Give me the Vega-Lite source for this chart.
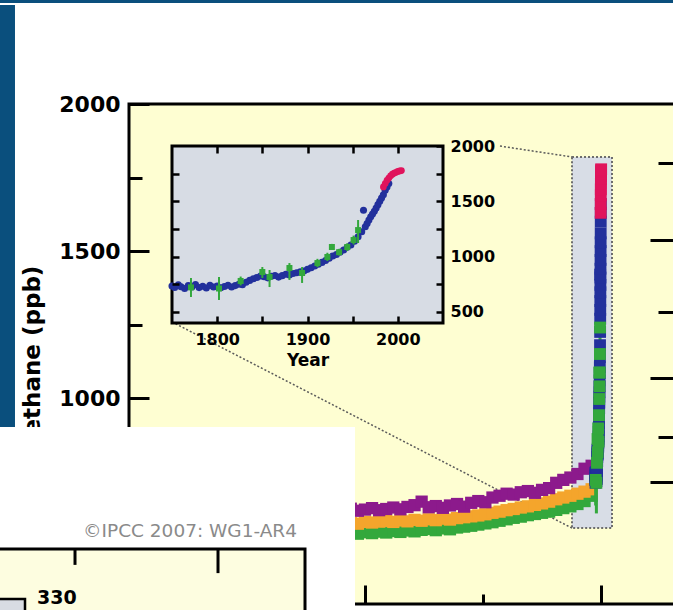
{
  "$schema": "https://vega.github.io/schema/vega-lite/v6.json",
  "width": 673,
  "height": 610,
  "autosize": {"type": "none"},
  "padding": 0,
  "background": "white",
  "config": {
    "view": {"stroke": null},
    "axis": {
      "grid": false,
      "domain": false,
      "labelFont": "DejaVu Sans",
      "labelFontWeight": "bold",
      "labelColor": "black",
      "titleFont": "DejaVu Sans",
      "titleFontWeight": "bold",
      "titleColor": "black",
      "tickColor": "black",
      "labelFlush": false,
      "labelOverlap": false,
      "format": "d"
    }
  },
  "datasets": {
    "deco": [
      {"item": "topline", "x1": -23500, "x2": 5300, "y1": 2343, "y2": 2360},
      {"item": "bluebar", "x1": -23500, "x2": -22824, "y1": 902, "y2": 2337},
      {"item": "frame", "x1": -17995, "x2": 5174, "y1": 300, "y2": 2000},
      {"item": "zoombox", "x1": 769, "x2": 2463, "y1": 558, "y2": 1820},
      {"item": "panel", "x1": -23500, "x2": -8422, "y1": 240, "y2": 902},
      {"item": "co2frame", "x1": -23700, "x2": -10540, "y1": 240, "y2": 487},
      {"item": "co2inset", "x1": -23700, "x2": -22400, "y1": 240, "y2": 317},
      {"item": "co2tick", "x1": -20282, "x2": -20282, "y1": 433, "y2": 487},
      {"item": "co2tick", "x1": -14225, "x2": -14225, "y1": 405, "y2": 487},
      {"item": "inset", "x1": 1750, "x2": 2050, "y1": 400, "y2": 2000}
    ],
    "labels": [
      {"label": "330", "year": -21892, "ch4": 320, "kind": "axis"},
      {"label": "©IPCC  2007: WG1-AR4", "year": -15411, "ch4": 548, "kind": "credit"}
    ],
    "connectors": [
      {"line": "upper", "year": -2281, "ch4": 1857},
      {"line": "upper", "year": 769, "ch4": 1820},
      {"line": "lower", "year": -16174, "ch4": 1259},
      {"line": "lower", "year": 769, "ch4": 558}
    ],
    "bands": [
      {"year": -9800, "ch4": 538, "src": "ice core 3"},
      {"year": -9500, "ch4": 541, "src": "ice core 3"},
      {"year": -9200, "ch4": 537, "src": "ice core 3"},
      {"year": -8900, "ch4": 540, "src": "ice core 3"},
      {"year": -8600, "ch4": 542, "src": "ice core 3"},
      {"year": -8300, "ch4": 539, "src": "ice core 3"},
      {"year": -8000, "ch4": 544, "src": "ice core 3"},
      {"year": -7700, "ch4": 541, "src": "ice core 3"},
      {"year": -7400, "ch4": 546, "src": "ice core 3"},
      {"year": -7100, "ch4": 543, "src": "ice core 3"},
      {"year": -6800, "ch4": 548, "src": "ice core 3"},
      {"year": -6500, "ch4": 545, "src": "ice core 3"},
      {"year": -6200, "ch4": 550, "src": "ice core 3"},
      {"year": -5900, "ch4": 547, "src": "ice core 3"},
      {"year": -5600, "ch4": 552, "src": "ice core 3"},
      {"year": -5300, "ch4": 555, "src": "ice core 3"},
      {"year": -5000, "ch4": 551, "src": "ice core 3"},
      {"year": -4700, "ch4": 557, "src": "ice core 3"},
      {"year": -4400, "ch4": 554, "src": "ice core 3"},
      {"year": -4100, "ch4": 560, "src": "ice core 3"},
      {"year": -3800, "ch4": 563, "src": "ice core 3"},
      {"year": -3500, "ch4": 566, "src": "ice core 3"},
      {"year": -3200, "ch4": 570, "src": "ice core 3"},
      {"year": -2900, "ch4": 574, "src": "ice core 3"},
      {"year": -2600, "ch4": 578, "src": "ice core 3"},
      {"year": -2300, "ch4": 583, "src": "ice core 3"},
      {"year": -2000, "ch4": 588, "src": "ice core 3"},
      {"year": -1700, "ch4": 593, "src": "ice core 3"},
      {"year": -1400, "ch4": 597, "src": "ice core 3"},
      {"year": -1100, "ch4": 602, "src": "ice core 3"},
      {"year": -800, "ch4": 606, "src": "ice core 3"},
      {"year": -500, "ch4": 610, "src": "ice core 3"},
      {"year": -200, "ch4": 614, "src": "ice core 3"},
      {"year": 100, "ch4": 620, "src": "ice core 3"},
      {"year": 400, "ch4": 626, "src": "ice core 3"},
      {"year": 700, "ch4": 632, "src": "ice core 3"},
      {"year": 1000, "ch4": 640, "src": "ice core 3"},
      {"year": 1300, "ch4": 650, "src": "ice core 3"},
      {"year": 1600, "ch4": 668, "src": "ice core 3"},
      {"year": -9800, "ch4": 574, "src": "ice core 2"},
      {"year": -9500, "ch4": 576, "src": "ice core 2"},
      {"year": -9200, "ch4": 572, "src": "ice core 2"},
      {"year": -8900, "ch4": 578, "src": "ice core 2"},
      {"year": -8600, "ch4": 575, "src": "ice core 2"},
      {"year": -8300, "ch4": 573, "src": "ice core 2"},
      {"year": -8000, "ch4": 579, "src": "ice core 2"},
      {"year": -7700, "ch4": 577, "src": "ice core 2"},
      {"year": -7400, "ch4": 580, "src": "ice core 2"},
      {"year": -7100, "ch4": 582, "src": "ice core 2"},
      {"year": -6800, "ch4": 579, "src": "ice core 2"},
      {"year": -6500, "ch4": 584, "src": "ice core 2"},
      {"year": -6200, "ch4": 581, "src": "ice core 2"},
      {"year": -5900, "ch4": 586, "src": "ice core 2"},
      {"year": -5600, "ch4": 583, "src": "ice core 2"},
      {"year": -5300, "ch4": 588, "src": "ice core 2"},
      {"year": -5000, "ch4": 585, "src": "ice core 2"},
      {"year": -4700, "ch4": 590, "src": "ice core 2"},
      {"year": -4400, "ch4": 587, "src": "ice core 2"},
      {"year": -4100, "ch4": 592, "src": "ice core 2"},
      {"year": -3800, "ch4": 595, "src": "ice core 2"},
      {"year": -3500, "ch4": 598, "src": "ice core 2"},
      {"year": -3200, "ch4": 601, "src": "ice core 2"},
      {"year": -2900, "ch4": 605, "src": "ice core 2"},
      {"year": -2600, "ch4": 610, "src": "ice core 2"},
      {"year": -2300, "ch4": 614, "src": "ice core 2"},
      {"year": -2000, "ch4": 619, "src": "ice core 2"},
      {"year": -1700, "ch4": 623, "src": "ice core 2"},
      {"year": -1400, "ch4": 628, "src": "ice core 2"},
      {"year": -1100, "ch4": 632, "src": "ice core 2"},
      {"year": -800, "ch4": 637, "src": "ice core 2"},
      {"year": -500, "ch4": 642, "src": "ice core 2"},
      {"year": -200, "ch4": 648, "src": "ice core 2"},
      {"year": 100, "ch4": 656, "src": "ice core 2"},
      {"year": 400, "ch4": 662, "src": "ice core 2"},
      {"year": 700, "ch4": 668, "src": "ice core 2"},
      {"year": 1000, "ch4": 675, "src": "ice core 2"},
      {"year": 1300, "ch4": 682, "src": "ice core 2"},
      {"year": 1600, "ch4": 690, "src": "ice core 2"},
      {"year": -9800, "ch4": 618, "src": "ice core 1"},
      {"year": -9500, "ch4": 622, "src": "ice core 1"},
      {"year": -9200, "ch4": 615, "src": "ice core 1"},
      {"year": -8900, "ch4": 620, "src": "ice core 1"},
      {"year": -8600, "ch4": 624, "src": "ice core 1"},
      {"year": -8300, "ch4": 617, "src": "ice core 1"},
      {"year": -8000, "ch4": 621, "src": "ice core 1"},
      {"year": -7700, "ch4": 626, "src": "ice core 1"},
      {"year": -7400, "ch4": 619, "src": "ice core 1"},
      {"year": -7100, "ch4": 623, "src": "ice core 1"},
      {"year": -6800, "ch4": 628, "src": "ice core 1"},
      {"year": -6500, "ch4": 622, "src": "ice core 1"},
      {"year": -6200, "ch4": 630, "src": "ice core 1"},
      {"year": -5900, "ch4": 636, "src": "ice core 1"},
      {"year": -5600, "ch4": 648, "src": "ice core 1"},
      {"year": -5300, "ch4": 629, "src": "ice core 1"},
      {"year": -5000, "ch4": 633, "src": "ice core 1"},
      {"year": -4700, "ch4": 627, "src": "ice core 1"},
      {"year": -4400, "ch4": 635, "src": "ice core 1"},
      {"year": -4100, "ch4": 640, "src": "ice core 1"},
      {"year": -3800, "ch4": 631, "src": "ice core 1"},
      {"year": -3500, "ch4": 644, "src": "ice core 1"},
      {"year": -3200, "ch4": 650, "src": "ice core 1"},
      {"year": -2900, "ch4": 646, "src": "ice core 1"},
      {"year": -2600, "ch4": 662, "src": "ice core 1"},
      {"year": -2300, "ch4": 668, "src": "ice core 1"},
      {"year": -2000, "ch4": 675, "src": "ice core 1"},
      {"year": -1700, "ch4": 672, "src": "ice core 1"},
      {"year": -1400, "ch4": 680, "src": "ice core 1"},
      {"year": -1100, "ch4": 684, "src": "ice core 1"},
      {"year": -800, "ch4": 678, "src": "ice core 1"},
      {"year": -500, "ch4": 688, "src": "ice core 1"},
      {"year": -200, "ch4": 694, "src": "ice core 1"},
      {"year": 100, "ch4": 712, "src": "ice core 1"},
      {"year": 400, "ch4": 722, "src": "ice core 1"},
      {"year": 700, "ch4": 730, "src": "ice core 1"},
      {"year": 1000, "ch4": 742, "src": "ice core 1"},
      {"year": 1300, "ch4": 760, "src": "ice core 1"},
      {"year": 1600, "ch4": 770, "src": "ice core 1"}
    ],
    "recent": [
      {"year": 1750, "ch4": 735, "src": "firn/ice"},
      {"year": 1753, "ch4": 722, "src": "firn/ice"},
      {"year": 1757, "ch4": 745, "src": "firn/ice"},
      {"year": 1760, "ch4": 728, "src": "firn/ice"},
      {"year": 1764, "ch4": 712, "src": "firn/ice"},
      {"year": 1768, "ch4": 738, "src": "firn/ice"},
      {"year": 1772, "ch4": 725, "src": "firn/ice"},
      {"year": 1776, "ch4": 748, "src": "firn/ice"},
      {"year": 1780, "ch4": 720, "src": "firn/ice"},
      {"year": 1784, "ch4": 733, "src": "firn/ice"},
      {"year": 1788, "ch4": 716, "src": "firn/ice"},
      {"year": 1792, "ch4": 740, "src": "firn/ice"},
      {"year": 1796, "ch4": 726, "src": "firn/ice"},
      {"year": 1800, "ch4": 735, "src": "firn/ice"},
      {"year": 1804, "ch4": 718, "src": "firn/ice"},
      {"year": 1808, "ch4": 730, "src": "firn/ice"},
      {"year": 1812, "ch4": 742, "src": "firn/ice"},
      {"year": 1816, "ch4": 725, "src": "firn/ice"},
      {"year": 1820, "ch4": 738, "src": "firn/ice"},
      {"year": 1824, "ch4": 750, "src": "firn/ice"},
      {"year": 1828, "ch4": 745, "src": "firn/ice"},
      {"year": 1832, "ch4": 768, "src": "firn/ice"},
      {"year": 1836, "ch4": 785, "src": "firn/ice"},
      {"year": 1840, "ch4": 800, "src": "firn/ice"},
      {"year": 1844, "ch4": 812, "src": "firn/ice"},
      {"year": 1848, "ch4": 825, "src": "firn/ice"},
      {"year": 1852, "ch4": 818, "src": "firn/ice"},
      {"year": 1856, "ch4": 808, "src": "firn/ice"},
      {"year": 1860, "ch4": 822, "src": "firn/ice"},
      {"year": 1864, "ch4": 830, "src": "firn/ice"},
      {"year": 1868, "ch4": 815, "src": "firn/ice"},
      {"year": 1872, "ch4": 828, "src": "firn/ice"},
      {"year": 1876, "ch4": 840, "src": "firn/ice"},
      {"year": 1880, "ch4": 835, "src": "firn/ice"},
      {"year": 1884, "ch4": 848, "src": "firn/ice"},
      {"year": 1888, "ch4": 855, "src": "firn/ice"},
      {"year": 1892, "ch4": 862, "src": "firn/ice"},
      {"year": 1896, "ch4": 870, "src": "firn/ice"},
      {"year": 1900, "ch4": 885, "src": "firn/ice"},
      {"year": 1904, "ch4": 900, "src": "firn/ice"},
      {"year": 1908, "ch4": 915, "src": "firn/ice"},
      {"year": 1912, "ch4": 932, "src": "firn/ice"},
      {"year": 1916, "ch4": 948, "src": "firn/ice"},
      {"year": 1920, "ch4": 965, "src": "firn/ice"},
      {"year": 1924, "ch4": 985, "src": "firn/ice"},
      {"year": 1928, "ch4": 1005, "src": "firn/ice"},
      {"year": 1932, "ch4": 1020, "src": "firn/ice"},
      {"year": 1936, "ch4": 1040, "src": "firn/ice"},
      {"year": 1940, "ch4": 1060, "src": "firn/ice"},
      {"year": 1944, "ch4": 1085, "src": "firn/ice"},
      {"year": 1948, "ch4": 1105, "src": "firn/ice"},
      {"year": 1952, "ch4": 1140, "src": "firn/ice"},
      {"year": 1956, "ch4": 1180, "src": "firn/ice"},
      {"year": 1960, "ch4": 1225, "src": "firn/ice"},
      {"year": 1962, "ch4": 1420, "src": "firn/ice"},
      {"year": 1964, "ch4": 1270, "src": "firn/ice"},
      {"year": 1966, "ch4": 1300, "src": "firn/ice"},
      {"year": 1968, "ch4": 1330, "src": "firn/ice"},
      {"year": 1970, "ch4": 1360, "src": "firn/ice"},
      {"year": 1972, "ch4": 1385, "src": "firn/ice"},
      {"year": 1974, "ch4": 1410, "src": "firn/ice"},
      {"year": 1976, "ch4": 1440, "src": "firn/ice"},
      {"year": 1978, "ch4": 1470, "src": "firn/ice"},
      {"year": 1980, "ch4": 1500, "src": "firn/ice"},
      {"year": 1982, "ch4": 1530, "src": "firn/ice"},
      {"year": 1984, "ch4": 1560, "src": "firn/ice"},
      {"year": 1986, "ch4": 1600, "src": "firn/ice"},
      {"year": 1988, "ch4": 1630, "src": "firn/ice"},
      {"year": 1990, "ch4": 1660, "src": "firn/ice"},
      {"year": 1771, "ch4": 722, "lo": 635, "hi": 807, "src": "ice core (error)"},
      {"year": 1802, "ch4": 712, "lo": 608, "hi": 816, "src": "ice core (error)"},
      {"year": 1826, "ch4": 780, "lo": 740, "hi": 820, "src": "ice core (error)"},
      {"year": 1850, "ch4": 861, "lo": 807, "hi": 906, "src": "ice core (error)"},
      {"year": 1858, "ch4": 816, "lo": 725, "hi": 879, "src": "ice core (error)"},
      {"year": 1880, "ch4": 897, "lo": 789, "hi": 942, "src": "ice core (error)"},
      {"year": 1894, "ch4": 852, "lo": 762, "hi": 906, "src": "ice core (error)"},
      {"year": 1911, "ch4": 942, "lo": 905, "hi": 980, "src": "ice core (error)"},
      {"year": 1922, "ch4": 997, "lo": 960, "hi": 1035, "src": "ice core (error)"},
      {"year": 1927, "ch4": 1087, "lo": 1060, "hi": 1115, "src": "ice core (error)"},
      {"year": 1935, "ch4": 1040, "lo": 1010, "hi": 1070, "src": "ice core (error)"},
      {"year": 1944, "ch4": 1087, "lo": 1050, "hi": 1120, "src": "ice core (error)"},
      {"year": 1951, "ch4": 1150, "lo": 1110, "hi": 1190, "src": "ice core (error)"},
      {"year": 1956, "ch4": 1240, "lo": 1123, "hi": 1331, "src": "ice core (error)"},
      {"year": 1984, "ch4": 1630, "src": "atmosphere"},
      {"year": 1986, "ch4": 1660, "src": "atmosphere"},
      {"year": 1988, "ch4": 1690, "src": "atmosphere"},
      {"year": 1990, "ch4": 1710, "src": "atmosphere"},
      {"year": 1992, "ch4": 1730, "src": "atmosphere"},
      {"year": 1994, "ch4": 1745, "src": "atmosphere"},
      {"year": 1996, "ch4": 1755, "src": "atmosphere"},
      {"year": 1998, "ch4": 1762, "src": "atmosphere"},
      {"year": 2000, "ch4": 1770, "src": "atmosphere"},
      {"year": 2002, "ch4": 1775, "src": "atmosphere"},
      {"year": 2004, "ch4": 1778, "src": "atmosphere"}
    ]
  },
  "resolve": {"scale": {"x": "independent", "y": "independent"}, "axis": {"x": "independent", "y": "independent"}},
  "layer": [
    {
      "resolve": {"axis": {"x": "independent", "y": "independent"}},
      "layer": [
        {
          "data": {"name": "deco"},
          "transform": [{"filter": "datum.item === 'topline' || datum.item === 'bluebar'"}],
          "mark": {"type": "rect", "color": "#0a4f7d"},
          "encoding": {
            "x": {"field": "x1", "type": "quantitative", "scale": {"domain": [-17995, 5174], "range": [129, 676], "nice": false, "zero": false}, "axis": null},
            "x2": {"field": "x2"},
            "y": {"field": "y1", "type": "quantitative", "scale": {"domain": [300, 2000], "range": [604, 104], "nice": false, "zero": false}, "axis": null},
            "y2": {"field": "y2"}
          }
        },
        {
          "data": {"name": "deco"},
          "transform": [{"filter": "datum.item === 'frame'"}],
          "mark": {"type": "rect", "fill": "#fefed2", "stroke": "black", "strokeWidth": 3},
          "encoding": {
            "x": {"field": "x1", "type": "quantitative", "scale": {"domain": [-17995, 5174], "range": [129, 676], "nice": false, "zero": false},
              "axis": {"orient": "bottom", "offset": -6, "values": [-7995, -2995, 2005], "labels": false, "title": null, "tickWidth": 3,
                "tickSize": {"condition": {"test": "datum.value === -2995", "value": -10}, "value": -19}, "zindex": 1}},
            "x2": {"field": "x2"},
            "y": {"field": "y1", "type": "quantitative", "scale": {"domain": [300, 2000], "range": [604, 104], "nice": false, "zero": false},
              "axis": {"orient": "left", "offset": -129, "values": [1000, 1500, 2000], "ticks": false, "tickSize": 0, "labelPadding": 9, "labelFontSize": 22,
                "title": "Methane (ppb)", "titleFontSize": 23, "titleX": -97, "titleY": 361, "titleAngle": -90, "titleAlign": "center", "titleBaseline": "middle", "zindex": 0}},
            "y2": {"field": "y2"}
          }
        },
        {
          "data": {"name": "deco"},
          "transform": [{"filter": "datum.item === 'zoombox'"}],
          "mark": {"type": "rect", "fill": "#d8dde6", "stroke": "#6d6d6d", "strokeWidth": 2, "strokeDash": [2, 2]},
          "encoding": {
            "x": {"field": "x1", "type": "quantitative", "scale": {"domain": [-17995, 5174], "range": [129, 676], "nice": false, "zero": false}, "axis": null},
            "x2": {"field": "x2"},
            "y": {"field": "y1", "type": "quantitative", "scale": {"domain": [300, 2000], "range": [604, 104], "nice": false, "zero": false}, "axis": null},
            "y2": {"field": "y2"}
          }
        },
        {
          "data": {"name": "connectors"},
          "mark": {"type": "line", "color": "#5a5a5a", "strokeWidth": 1.5, "strokeDash": [2, 2]},
          "encoding": {
            "x": {"field": "year", "type": "quantitative", "scale": {"domain": [-17995, 5174], "range": [129, 676], "nice": false, "zero": false}, "axis": null},
            "y": {"field": "ch4", "type": "quantitative", "scale": {"domain": [300, 2000], "range": [604, 104], "nice": false, "zero": false}, "axis": null},
            "detail": {"field": "line"}
          }
        },
        {
          "data": {"name": "bands"},
          "mark": {"type": "point", "shape": "square", "filled": true, "opacity": 1, "size": 150},
          "encoding": {
            "x": {"field": "year", "type": "quantitative", "scale": {"domain": [-17995, 5174], "range": [129, 676], "nice": false, "zero": false}, "axis": null},
            "y": {"field": "ch4", "type": "quantitative", "scale": {"domain": [300, 2000], "range": [604, 104], "nice": false, "zero": false},
              "axis": {"orient": "left", "offset": -129, "values": [1000, 1250, 1500, 1750, 2000], "labels": false, "title": null, "tickWidth": 3,
                "tickSize": {"condition": {"test": "datum.value % 500 === 0", "value": -20}, "value": -13}, "zindex": 1}},
            "color": {"field": "src", "type": "nominal", "legend": null,
              "scale": {"domain": ["ice core 1", "ice core 2", "ice core 3", "firn/ice", "ice core (error)", "atmosphere"],
                        "range": ["#8c1a8c", "#f4a52c", "#33a83c", "#22309c", "#33a83c", "#e0145c"]}}
          }
        },
        {
          "data": {"name": "recent"},
          "transform": [{"filter": "datum.src === 'ice core (error)'"}],
          "mark": {"type": "rule", "strokeWidth": 3},
          "encoding": {
            "x": {"field": "year", "type": "quantitative", "scale": {"domain": [-17995, 5174], "range": [129, 676], "nice": false, "zero": false}, "axis": null},
            "y": {"field": "lo", "type": "quantitative", "scale": {"domain": [300, 2000], "range": [604, 104], "nice": false, "zero": false}, "axis": null},
            "y2": {"field": "hi"},
            "color": {"field": "src", "type": "nominal", "legend": null}
          }
        },
        {
          "data": {"name": "recent"},
          "mark": {"type": "point", "shape": "square", "filled": true, "opacity": 1, "size": 140},
          "encoding": {
            "x": {"field": "year", "type": "quantitative", "scale": {"domain": [-17995, 5174], "range": [129, 676], "nice": false, "zero": false}, "axis": null},
            "y": {"field": "ch4", "type": "quantitative", "scale": {"domain": [300, 2000], "range": [604, 104], "nice": false, "zero": false},
              "axis": {"orient": "right", "offset": 3, "values": [715, 868, 1068, 1293, 1538, 1799], "labels": false, "title": null, "tickWidth": 3,
                "tickSize": {"condition": {"test": "indexof([715, 1068, 1538], datum.value) >= 0", "value": -26}, "value": -18}, "zindex": 1}},
            "color": {"field": "src", "type": "nominal", "legend": null}
          }
        },
        {
          "data": {"name": "deco"},
          "transform": [{"filter": "datum.item === 'panel'"}],
          "mark": {"type": "rect", "color": "white"},
          "encoding": {
            "x": {"field": "x1", "type": "quantitative", "scale": {"domain": [-17995, 5174], "range": [129, 676], "nice": false, "zero": false}, "axis": null},
            "x2": {"field": "x2"},
            "y": {"field": "y1", "type": "quantitative", "scale": {"domain": [300, 2000], "range": [604, 104], "nice": false, "zero": false}, "axis": null},
            "y2": {"field": "y2"}
          }
        },
        {
          "data": {"name": "deco"},
          "transform": [{"filter": "datum.item === 'co2frame'"}],
          "mark": {"type": "rect", "fill": "#fdfde0", "stroke": "black", "strokeWidth": 3},
          "encoding": {
            "x": {"field": "x1", "type": "quantitative", "scale": {"domain": [-17995, 5174], "range": [129, 676], "nice": false, "zero": false}, "axis": null},
            "x2": {"field": "x2"},
            "y": {"field": "y1", "type": "quantitative", "scale": {"domain": [300, 2000], "range": [604, 104], "nice": false, "zero": false}, "axis": null},
            "y2": {"field": "y2"}
          }
        },
        {
          "data": {"name": "deco"},
          "transform": [{"filter": "datum.item === 'co2inset'"}],
          "mark": {"type": "rect", "fill": "#d8dce3", "stroke": "black", "strokeWidth": 2.5},
          "encoding": {
            "x": {"field": "x1", "type": "quantitative", "scale": {"domain": [-17995, 5174], "range": [129, 676], "nice": false, "zero": false}, "axis": null},
            "x2": {"field": "x2"},
            "y": {"field": "y1", "type": "quantitative", "scale": {"domain": [300, 2000], "range": [604, 104], "nice": false, "zero": false}, "axis": null},
            "y2": {"field": "y2"}
          }
        },
        {
          "data": {"name": "deco"},
          "transform": [{"filter": "datum.item === 'co2tick'"}],
          "mark": {"type": "rule", "color": "black", "strokeWidth": 3},
          "encoding": {
            "x": {"field": "x1", "type": "quantitative", "scale": {"domain": [-17995, 5174], "range": [129, 676], "nice": false, "zero": false}, "axis": null},
            "y": {"field": "y1", "type": "quantitative", "scale": {"domain": [300, 2000], "range": [604, 104], "nice": false, "zero": false}, "axis": null},
            "y2": {"field": "y2"}
          }
        },
        {
          "data": {"name": "labels"},
          "transform": [{"filter": "datum.kind === 'axis'"}],
          "mark": {"type": "text", "font": "DejaVu Sans", "fontWeight": "bold", "fontSize": 19, "align": "left", "baseline": "middle", "color": "black"},
          "encoding": {
            "x": {"field": "year", "type": "quantitative", "scale": {"domain": [-17995, 5174], "range": [129, 676], "nice": false, "zero": false}, "axis": null},
            "y": {"field": "ch4", "type": "quantitative", "scale": {"domain": [300, 2000], "range": [604, 104], "nice": false, "zero": false}, "axis": null},
            "text": {"field": "label"}
          }
        },
        {
          "data": {"name": "labels"},
          "transform": [{"filter": "datum.kind === 'credit'"}],
          "mark": {"type": "text", "font": "DejaVu Sans", "fontSize": 18.5, "align": "center", "baseline": "middle", "color": "#8a8a8a"},
          "encoding": {
            "x": {"field": "year", "type": "quantitative", "scale": {"domain": [-17995, 5174], "range": [129, 676], "nice": false, "zero": false}, "axis": null},
            "y": {"field": "ch4", "type": "quantitative", "scale": {"domain": [300, 2000], "range": [604, 104], "nice": false, "zero": false}, "axis": null},
            "text": {"field": "label"}
          }
        }
      ]
    },
    {
      "resolve": {"axis": {"x": "independent", "y": "independent"}},
      "layer": [
        {
          "data": {"name": "deco"},
          "transform": [{"filter": "datum.item === 'inset'"}],
          "mark": {"type": "rect", "fill": "#d7dce4", "stroke": "black", "strokeWidth": 3},
          "encoding": {
            "x": {"field": "x1", "type": "quantitative", "scale": {"domain": [1750, 2050], "range": [172, 443], "nice": false, "zero": false},
              "axis": {"orient": "bottom", "offset": -287, "values": [1800, 1850, 1900, 1950, 2000], "tickSize": -7, "tickWidth": 2.5, "labelPadding": 15, "labelFontSize": 16,
                "labelExpr": "datum.value % 100 === 0 ? datum.label : ''", "title": "Year", "titleFontSize": 17, "titlePadding": 5, "zindex": 1}},
            "x2": {"field": "x2"},
            "y": {"field": "y1", "type": "quantitative", "scale": {"domain": [400, 2000], "range": [323, 146], "nice": false, "zero": false},
              "axis": {"orient": "right", "offset": -230, "values": [500, 750, 1000, 1250, 1500, 1750, 2000], "tickSize": -7, "tickWidth": 2.5, "labelPadding": 14, "labelFontSize": 16,
                "labelExpr": "datum.value % 500 === 0 ? datum.label : ''", "title": null, "zindex": 1}},
            "y2": {"field": "y2"}
          }
        },
        {
          "data": {"name": "recent"},
          "transform": [{"filter": "datum.src === 'firn/ice'"}],
          "mark": {"type": "point", "shape": "circle", "filled": true, "opacity": 1, "size": 50},
          "encoding": {
            "x": {"field": "year", "type": "quantitative", "scale": {"domain": [1750, 2050], "range": [172, 443], "nice": false, "zero": false}, "axis": null},
            "y": {"field": "ch4", "type": "quantitative", "scale": {"domain": [400, 2000], "range": [323, 146], "nice": false, "zero": false}, "axis": null},
            "color": {"field": "src", "type": "nominal", "legend": null}
          }
        },
        {
          "data": {"name": "recent"},
          "transform": [{"filter": "datum.src === 'ice core (error)'"}],
          "mark": {"type": "rule", "strokeWidth": 2},
          "encoding": {
            "x": {"field": "year", "type": "quantitative", "scale": {"domain": [1750, 2050], "range": [172, 443], "nice": false, "zero": false},
              "axis": {"orient": "top", "offset": -146, "values": [1800, 1850, 1900, 1950, 2000], "tickSize": -7, "tickWidth": 2.5, "labels": false, "title": null, "zindex": 1}},
            "y": {"field": "lo", "type": "quantitative", "scale": {"domain": [400, 2000], "range": [323, 146], "nice": false, "zero": false},
              "axis": {"orient": "left", "offset": -172, "values": [500, 750, 1000, 1250, 1500, 1750], "tickSize": -7, "tickWidth": 2.5, "labels": false, "title": null, "zindex": 1}},
            "y2": {"field": "hi"},
            "color": {"field": "src", "type": "nominal", "legend": null}
          }
        },
        {
          "data": {"name": "recent"},
          "transform": [{"filter": "datum.src === 'ice core (error)'"}],
          "mark": {"type": "point", "shape": "square", "filled": true, "opacity": 1, "size": 36},
          "encoding": {
            "x": {"field": "year", "type": "quantitative", "scale": {"domain": [1750, 2050], "range": [172, 443], "nice": false, "zero": false}, "axis": null},
            "y": {"field": "ch4", "type": "quantitative", "scale": {"domain": [400, 2000], "range": [323, 146], "nice": false, "zero": false}, "axis": null},
            "color": {"field": "src", "type": "nominal", "legend": null}
          }
        },
        {
          "data": {"name": "recent"},
          "transform": [{"filter": "datum.src === 'atmosphere'"}],
          "mark": {"type": "point", "shape": "circle", "filled": true, "opacity": 1, "size": 45},
          "encoding": {
            "x": {"field": "year", "type": "quantitative", "scale": {"domain": [1750, 2050], "range": [172, 443], "nice": false, "zero": false}, "axis": null},
            "y": {"field": "ch4", "type": "quantitative", "scale": {"domain": [400, 2000], "range": [323, 146], "nice": false, "zero": false}, "axis": null},
            "color": {"field": "src", "type": "nominal", "legend": null}
          }
        }
      ]
    }
  ]
}
